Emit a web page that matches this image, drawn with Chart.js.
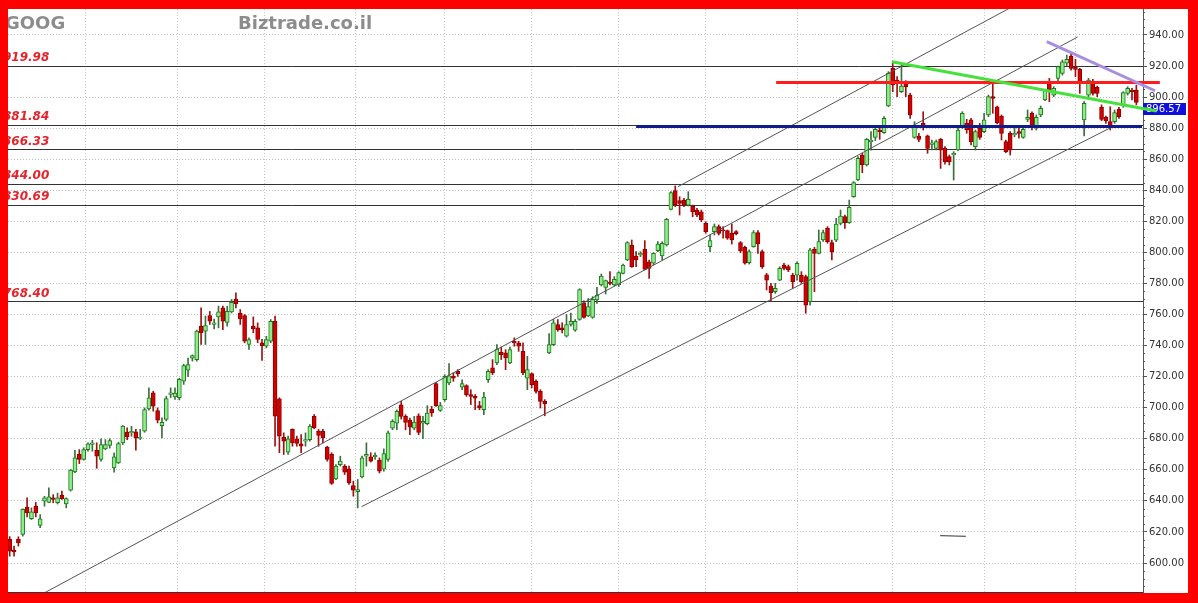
<!DOCTYPE html>
<html>
<head>
<meta charset="utf-8">
<script src="https://cdn.jsdelivr.net/npm/chart.js@4.4.1/dist/chart.umd.min.js"></script>
<style>
  html, body { margin: 0; padding: 0; width: 1198px; height: 603px; overflow: hidden; background: #ff0000; }
  #frame { position: absolute; left: 8px; top: 9px; width: 1180px; height: 584px; background: #fff; }
  canvas { display: block; }
</style>
</head>
<body>
<div id="frame"><canvas id="chart" width="1180" height="584"></canvas></div>
<script>
(() => {
  'use strict'

  const ticker = 'GOOG'
  const siteName = 'Biztrade.co.il'

  // daily candles, oldest first
  const opens = [
    615.2, 608.3, 615.2, 618.4, 636.0, 628.5, 636.6, 624.2, 639.8, 639.0,
    642.0, 638.8, 643.7, 638.0, 646.9, 658.7, 669.9, 666.7, 673.0, 676.3,
    672.6, 666.7, 673.5, 675.7, 661.3, 664.5, 677.4, 684.3, 683.8, 684.4,
    680.2, 684.9, 699.3, 709.6, 698.2, 688.5, 692.5, 708.5, 706.9, 706.4,
    717.1, 724.2, 731.9, 731.0, 752.5, 749.3, 759.4, 753.6, 758.5, 764.3,
    755.0, 761.7, 770.0, 761.0, 759.4, 740.7, 752.5, 751.4, 741.8, 739.6,
    742.8, 755.7, 705.7, 681.0, 671.4, 686.0, 680.0, 676.7, 678.5, 679.5,
    694.5, 684.9, 684.9, 674.6, 669.9, 654.2, 663.4, 662.4, 660.6, 649.9,
    646.0, 655.5, 668.8, 668.4, 668.4, 666.2, 660.4, 666.7, 686.9, 690.1,
    701.9, 694.4, 691.8, 686.9, 694.8, 690.1, 689.7, 699.1, 715.5, 698.3,
    705.2, 715.9, 720.2, 723.4, 713.3, 714.2, 708.4, 707.3, 701.3, 698.7,
    718.0, 725.6, 728.8, 735.7, 735.3, 728.8, 742.8, 741.7, 736.3, 719.1,
    721.9, 717.0, 710.5, 704.1, 735.3, 740.6, 753.6, 751.4, 746.0, 753.6,
    749.9, 756.8, 767.6, 759.1, 758.2, 769.4, 779.0, 777.5, 780.9, 779.0,
    779.0, 786.5, 795.1, 804.8, 797.7, 798.4, 802.0, 794.0, 793.0, 801.1,
    797.7, 804.8, 827.7, 839.8, 833.3, 833.7, 830.5, 829.9, 827.3, 826.2,
    818.7, 803.7, 813.4, 816.6, 814.5, 814.0, 812.3, 813.4, 806.3, 803.3,
    793.4, 803.7, 812.7, 800.5, 785.5, 778.4, 774.7, 782.2, 791.9, 790.8,
    785.4, 785.4, 785.4, 784.4, 768.3, 802.0, 799.4, 808.0, 815.5, 806.3,
    807.9, 818.7, 823.0, 819.2, 835.9, 846.6, 862.7, 856.3, 871.3, 874.1,
    878.8, 877.1, 894.3, 918.5, 911.0, 903.5, 908.9, 901.3, 874.1, 874.9,
    883.1, 875.0, 869.5, 867.0, 872.8, 867.0, 861.7, 862.7, 866.0, 881.0,
    883.1, 885.3, 868.1, 879.9, 877.8, 888.5, 900.3, 893.8, 887.8, 871.3,
    876.7, 875.6, 877.8, 874.1, 885.7, 889.6, 880.0, 888.5, 898.2, 910.0,
    901.3, 912.1, 915.3, 921.8, 926.5, 919.2, 917.9, 885.3, 901.3, 910.0,
    906.3, 893.4, 887.0, 884.2, 884.2, 892.1, 894.3, 902.4, 904.6, 904.6
  ]
  const highs = [
    617.0, 610.9, 616.9, 634.9, 642.0, 635.5, 639.0, 631.2, 643.0, 648.4,
    644.0, 645.0, 646.3, 642.0, 660.2, 672.6, 673.0, 674.2, 677.4, 679.0,
    677.4, 680.0, 679.5, 680.0, 671.0, 677.8, 688.5, 687.0, 688.0, 686.0,
    686.0, 699.9, 712.8, 710.6, 699.9, 693.5, 707.4, 712.8, 712.8, 719.0,
    728.0, 732.0, 734.0, 750.0, 764.3, 759.0, 762.0, 757.0, 765.4, 765.4,
    765.4, 769.7, 774.0, 763.2, 760.0, 745.0, 758.5, 754.6, 744.0, 746.0,
    756.8, 759.0, 706.4, 683.8, 681.7, 686.4, 681.7, 682.7, 683.8, 689.2,
    695.6, 686.0, 686.0, 675.2, 671.0, 663.4, 668.8, 663.4, 662.4, 652.7,
    653.8, 668.8, 677.4, 671.0, 671.0, 667.7, 673.5, 684.9, 692.3, 698.7,
    704.1, 695.5, 693.3, 694.4, 696.1, 694.4, 701.3, 700.9, 716.3, 703.4,
    721.3, 728.4, 722.4, 724.5, 718.0, 714.8, 711.6, 708.4, 704.1, 709.9,
    724.5, 731.0, 740.6, 739.1, 737.4, 739.1, 745.0, 742.8, 741.7, 733.1,
    722.4, 718.0, 711.6, 705.2, 747.7, 756.8, 756.8, 754.6, 760.0, 761.0,
    756.8, 776.6, 768.9, 770.4, 771.5, 777.5, 786.1, 782.2, 787.6, 784.4,
    787.6, 792.5, 806.9, 808.0, 800.5, 800.5, 807.6, 795.1, 799.8, 806.9,
    806.9, 821.9, 839.1, 842.8, 835.9, 834.8, 839.1, 830.5, 828.4, 827.3,
    819.8, 811.2, 818.3, 817.7, 816.6, 814.4, 818.3, 814.0, 807.0, 804.1,
    801.6, 814.0, 814.0, 801.6, 786.5, 780.1, 780.1, 790.8, 793.0, 791.9,
    786.5, 794.0, 787.6, 785.4, 802.6, 803.3, 814.4, 814.4, 816.6, 808.0,
    821.9, 827.3, 824.1, 833.7, 845.6, 861.7, 863.8, 873.4, 877.8, 879.9,
    880.5, 887.4, 916.4, 921.8, 913.2, 920.7, 910.6, 902.4, 884.2, 876.7,
    890.6, 875.6, 872.4, 872.4, 873.4, 868.1, 862.7, 864.9, 879.9, 890.6,
    885.7, 886.3, 878.8, 883.1, 889.6, 901.3, 909.9, 894.3, 888.5, 872.4,
    877.8, 881.0, 881.0, 881.0, 891.7, 890.6, 888.5, 894.3, 905.0, 912.1,
    906.7, 920.0, 923.9, 927.1, 928.2, 924.3, 918.5, 897.1, 912.1, 911.5,
    907.1, 895.0, 887.8, 893.8, 891.7, 893.4, 903.5, 906.7, 905.6, 907.8
  ]
  const lows = [
    604.4, 604.4, 610.9, 617.3, 629.7, 628.0, 629.7, 622.7, 636.6, 638.8,
    638.8, 638.0, 640.9, 635.5, 646.3, 658.1, 664.0, 666.2, 672.0, 672.0,
    661.0, 665.6, 673.0, 674.0, 658.5, 664.0, 676.3, 679.5, 681.6, 672.6,
    679.5, 684.2, 698.4, 697.8, 690.2, 680.6, 691.5, 706.4, 705.3, 705.0,
    715.0, 720.0, 730.0, 730.0, 740.7, 740.7, 753.6, 750.8, 751.4, 750.3,
    752.5, 761.0, 764.3, 753.6, 741.8, 737.5, 748.2, 741.8, 730.4, 738.5,
    741.8, 675.2, 671.0, 669.9, 669.9, 675.2, 675.2, 671.0, 675.2, 678.5,
    686.4, 675.2, 677.4, 665.6, 650.6, 653.6, 662.4, 657.0, 650.6, 643.0,
    635.5, 654.8, 662.4, 665.0, 666.7, 658.0, 659.1, 665.6, 685.8, 685.8,
    692.7, 685.8, 682.6, 685.8, 682.6, 680.0, 689.0, 694.4, 700.9, 697.6,
    704.1, 714.8, 717.0, 720.2, 711.6, 707.3, 702.0, 698.7, 698.7, 695.5,
    716.3, 721.3, 727.7, 731.0, 724.5, 728.4, 739.6, 736.3, 721.3, 711.6,
    712.7, 709.4, 699.8, 694.8, 734.8, 740.0, 749.2, 748.2, 745.5, 752.5,
    749.2, 756.3, 757.6, 758.6, 757.6, 767.2, 778.4, 773.2, 779.0, 778.4,
    778.0, 786.1, 794.7, 790.4, 790.8, 797.3, 788.7, 783.3, 791.9, 800.5,
    795.1, 804.1, 827.3, 829.5, 824.1, 829.5, 829.9, 823.0, 823.0, 819.8,
    812.3, 800.5, 811.2, 811.2, 809.1, 808.4, 805.4, 811.2, 799.8, 792.5,
    792.5, 803.3, 799.4, 789.7, 775.8, 768.3, 773.6, 781.8, 788.7, 787.6,
    776.9, 782.2, 780.1, 760.8, 766.1, 774.7, 799.0, 807.0, 805.9, 795.1,
    806.9, 817.7, 815.5, 818.7, 835.5, 846.2, 851.3, 855.6, 865.9, 872.0,
    872.8, 876.7, 893.8, 903.5, 900.3, 902.9, 900.3, 886.3, 873.5, 871.3,
    878.8, 863.8, 866.0, 866.0, 854.1, 856.9, 856.3, 846.6, 865.5, 879.9,
    876.7, 869.2, 865.9, 872.8, 877.1, 887.4, 889.6, 882.7, 872.4, 864.2,
    862.7, 874.5, 873.5, 873.5, 884.2, 878.8, 878.8, 887.4, 897.7, 897.1,
    900.3, 908.9, 914.2, 920.0, 917.4, 913.2, 902.4, 875.0, 899.2, 901.3,
    900.3, 884.8, 883.1, 878.8, 883.1, 886.3, 893.4, 901.3, 898.2, 895.0
  ]
  const closes = [
    607.6, 607.1, 613.0, 634.5, 632.3, 633.0, 632.3, 628.5, 642.0, 642.6,
    641.0, 642.0, 641.5, 641.5, 659.8, 667.7, 666.7, 673.0, 676.7, 677.4,
    668.8, 676.3, 676.3, 678.9, 668.4, 676.9, 688.1, 681.2, 684.8, 680.6,
    681.0, 698.8, 706.4, 701.0, 692.0, 690.6, 705.8, 709.6, 709.4, 718.2,
    727.2, 727.8, 733.6, 749.3, 748.2, 752.9, 755.7, 754.6, 761.7, 755.7,
    762.1, 767.9, 767.0, 757.2, 742.8, 743.9, 750.8, 743.9, 740.0, 743.9,
    755.7, 694.5, 681.7, 678.5, 680.0, 677.4, 677.0, 675.2, 679.5, 688.1,
    687.0, 682.2, 680.6, 666.7, 651.2, 662.4, 665.6, 658.5, 651.6, 646.9,
    647.3, 667.7, 669.9, 665.6, 669.4, 659.1, 670.5, 683.8, 691.2, 697.6,
    694.4, 690.5, 687.5, 690.8, 684.1, 691.2, 696.6, 696.6, 701.3, 701.3,
    720.2, 720.6, 719.1, 721.9, 715.5, 708.4, 707.3, 706.2, 699.8, 706.9,
    723.4, 722.4, 737.8, 734.2, 732.0, 737.4, 741.7, 739.6, 722.4, 724.5,
    714.8, 710.5, 704.1, 702.6, 740.6, 754.6, 750.3, 750.3, 753.6, 755.7,
    755.7, 776.1, 758.2, 765.1, 769.8, 772.6, 784.8, 781.8, 780.1, 782.7,
    787.0, 791.9, 806.3, 790.8, 795.1, 799.4, 789.1, 789.7, 799.4, 805.4,
    805.8, 821.3, 838.5, 830.5, 831.6, 830.5, 834.2, 826.2, 824.1, 820.9,
    813.4, 807.6, 816.6, 812.3, 813.8, 809.1, 808.0, 811.9, 800.9, 793.0,
    800.5, 812.7, 805.4, 790.8, 782.2, 774.1, 776.9, 789.7, 789.7, 788.7,
    781.2, 793.0, 781.2, 766.1, 801.6, 799.4, 806.9, 812.7, 806.9, 800.5,
    818.3, 823.4, 819.2, 829.0, 844.9, 860.6, 856.3, 872.8, 872.3, 879.3,
    877.8, 886.3, 915.3, 907.8, 908.9, 907.1, 906.7, 888.5, 881.0, 872.8,
    881.3, 867.0, 870.6, 871.3, 866.0, 858.4, 858.4, 863.8, 878.8, 889.6,
    878.8, 871.3, 877.8, 874.1, 885.3, 900.3, 899.2, 883.5, 876.7, 864.9,
    865.9, 876.7, 876.7, 879.3, 887.0, 881.0, 887.0, 892.8, 904.6, 904.6,
    905.6, 919.6, 922.8, 924.3, 918.5, 917.9, 909.3, 896.0, 911.0, 902.4,
    902.4, 885.7, 884.8, 881.0, 890.0, 887.4, 902.9, 905.6, 903.5, 896.57
  ]

  // candle index where a new month starts (vertical grid)
  const monthStarts = [6, 29, 48, 69, 90, 110, 130, 150, 170, 192, 214, 234, 256]
  const yTicks = [600, 620, 640, 660, 680, 700, 720, 740, 760, 780, 800, 820, 840, 860, 880, 900, 920, 940]
  const levels = [919.98, 881.84, 866.33, 844.00, 830.69, 768.40]

  // hand drawn lines, [candle index, price]
  const channelMid = [[6.0, 577.8], [245.5, 938.7]]
  const channelTop = [[153.6, 842.3], [232.0, 960.5]]
  const channelLow = [[80.9, 636.3], [253.6, 881.0]]
  const redLine = [[176.2, 909.4], [264.4, 909.4]]
  const blueLine = [[144.0, 881.1], [260.3, 881.1]]
  const greenLine = [[202.8, 922.8], [263.6, 891.1]]
  const purpleLine = [[238.4, 935.7], [263.3, 904.1]]
  const strayLine = [[213.9, 617.6], [219.8, 617.2]]

  const FONT = "'DejaVu Sans', Verdana, sans-serif"
  Chart.defaults.font.family = FONT

  const up = opens.map((o, i) => closes[i] >= o)
  const bodies = opens.map((o, i) => ({ x: i, y: [o, closes[i]] }))
  const wicks = opens.map((o, i) => ({ x: i, y: [lows[i], highs[i]] }))
  const pts = arr => arr.map(([x, y]) => ({ x, y }))

  const line = (arr, color, width, noClip) => ({
    type: 'line',
    data: pts(arr),
    borderColor: color,
    borderWidth: width,
    pointRadius: 0,
    fill: false,
    order: 0,
    clip: noClip ? false : undefined
  })

  const noPad = s => {
    s.paddingTop = 0
    s.paddingBottom = 0
    s.paddingLeft = 0
    s.paddingRight = 0
  }

  const overlay = {
    id: 'overlay',
    beforeDatasetsDraw(chart) {
      const { ctx, chartArea, scales: { y } } = chart
      ctx.save()
      ctx.strokeStyle = '#333'
      ctx.lineWidth = 1
      levels.forEach(v => {
        const py = Math.round(y.getPixelForValue(v)) + 0.5
        ctx.beginPath()
        ctx.moveTo(chartArea.left, py)
        ctx.lineTo(chartArea.right, py)
        ctx.stroke()
      })
      // minor ticks on the price axis
      ctx.strokeStyle = '#555'
      for (let v = 585; v <= 955; v += 5) {
        if (v % 20 === 0) continue
        const py = Math.round(y.getPixelForValue(v)) + 0.5
        ctx.beginPath()
        ctx.moveTo(chartArea.right, py)
        ctx.lineTo(chartArea.right + 2, py)
        ctx.stroke()
      }
      // last price box
      const last = closes[closes.length - 1]
      const ly = Math.round(y.getPixelForValue(last))
      ctx.fillStyle = '#1010dc'
      ctx.fillRect(chartArea.right, ly + 1, 43, 12)
      ctx.fillStyle = '#fff'
      ctx.font = '10px ' + FONT
      ctx.textBaseline = 'middle'
      ctx.fillText(last.toFixed(2), chartArea.right + 3, ly + 7.5)
      ctx.restore()
    },
    afterDraw(chart) {
      const { ctx, scales: { y } } = chart
      ctx.save()
      ctx.textBaseline = 'middle'
      // level labels
      ctx.font = 'italic bold 12px ' + FONT
      ctx.fillStyle = '#e3242b'
      levels.forEach(v => {
        ctx.fillText(v.toFixed(2), -5, y.getPixelForValue(v) - 8)
      })
      // titles
      ctx.font = 'bold 18px ' + FONT
      ctx.fillStyle = '#8c8c8c'
      ctx.fillText(ticker, -3, 15)
      ctx.fillText(siteName, 230, 15)
      ctx.restore()
    }
  }

  new Chart(document.getElementById('chart'), {
    type: 'bar',
    data: {
      datasets: [
        line(purpleLine, '#a88ee2', 3, true),
        line(greenLine, '#46e23c', 3, true),
        line(redLine, '#ff1c1c', 3, true),
        line(blueLine, '#101c8c', 3, false),
        line(channelMid, '#555', 1, false),
        line(channelTop, '#555', 1, false),
        line(channelLow, '#555', 1, false),
        line(strayLine, '#333', 1, false),
        {
          data: bodies,
          grouped: false,
          barThickness: 4,
          borderWidth: 1,
          borderSkipped: false,
          backgroundColor: up.map(u => u ? '#8eec8a' : '#d40000'),
          borderColor: up.map(u => u ? '#1f7a1f' : '#8e0000'),
          order: 1
        },
        {
          data: wicks,
          grouped: false,
          barThickness: 1,
          borderWidth: 0,
          backgroundColor: up.map(u => u ? '#3d6e3d' : '#a01010'),
          order: 2
        }
      ]
    },
    options: {
      responsive: false,
      animation: false,
      events: [],
      layout: { padding: 0 },
      plugins: {
        legend: { display: false },
        tooltip: { enabled: false }
      },
      scales: {
        x: {
          type: 'linear',
          offset: false,
          min: -0.391,
          max: 260.53,
          afterBuildTicks: s => { s.ticks = monthStarts.map(v => ({ value: v })) },
          afterFit: s => { s.height = 1; noPad(s) },
          ticks: { display: false },
          grid: { color: '#c4c4c4', drawTicks: false },
          border: { display: true, color: '#333', width: 1, dash: [1, 2] }
        },
        y: {
          position: 'right',
          min: 581.33,
          max: 956.74,
          afterBuildTicks: s => { s.ticks = yTicks.map(v => ({ value: v })) },
          afterFit: s => { s.width = 45; noPad(s) },
          ticks: {
            color: '#333',
            padding: 2,
            font: { size: 10 },
            callback: v => Number(v).toFixed(2)
          },
          grid: { color: '#bdbdbd', tickLength: 4, tickColor: '#555', tickBorderDash: [] },
          border: { display: true, color: '#555', width: 1, dash: [1, 2] }
        }
      }
    },
    plugins: [overlay]
  })
})()
</script>
</body>
</html>
